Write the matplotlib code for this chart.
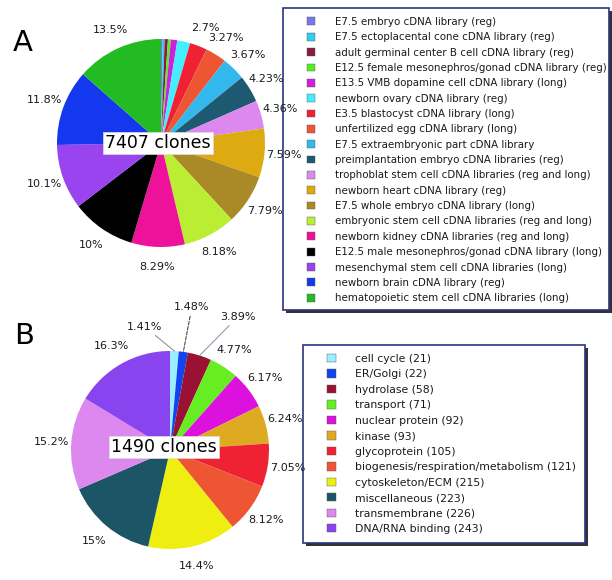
import numpy as np
import matplotlib.pyplot as plt
from matplotlib.patches import Patch, Rectangle

# ---- panel A: clones per cDNA library (percent of 7407) ----
a_total = 7407
a_labels = [
    "E7.5 embryo cDNA library (reg)",
    "E7.5 ectoplacental cone cDNA library (reg)",
    "adult germinal center B cell cDNA library (reg)",
    "E12.5 female mesonephros/gonad cDNA library (reg)",
    "E13.5 VMB dopamine cell cDNA library (long)",
    "newborn ovary cDNA library (reg)",
    "E3.5 blastocyst cDNA library (long)",
    "unfertilized egg cDNA library (long)",
    "E7.5 extraembryonic part cDNA library",
    "preimplantation embryo cDNA libraries (reg)",
    "trophoblat stem cell cDNA libraries (reg and long)",
    "newborn heart cDNA library (reg)",
    "E7.5 whole embryo cDNA library (long)",
    "embryonic stem cell cDNA libraries (reg and long)",
    "newborn kidney cDNA libraries (reg and long)",
    "E12.5 male mesonephros/gonad cDNA library (long)",
    "mesenchymal stem cell cDNA libraries (long)",
    "newborn brain cDNA library (reg)",
    "hematopoietic stem cell cDNA libraries (long)",
]
a_values = [0.27, 0.3, 0.5, 0.45, 1.0, 2.0, 2.7, 3.27, 3.67, 4.23, 4.36,
            7.59, 7.79, 8.18, 8.29, 10.0, 10.1, 11.8, 13.5]
a_colors = ["#7878ee", "#33ccee", "#8c1a40", "#55ee22", "#cc22dd", "#44eeff",
            "#ee2233", "#ee5533", "#33b8ee", "#1d5a72", "#dd88ee", "#ddaa11",
            "#aa8a26", "#bbee33", "#ee1199", "#000000", "#9944ee", "#1438ee",
            "#22bb22"]

# ---- panel B: functional categories (clone counts) ----
b_labels = ["cell cycle", "ER/Golgi", "hydrolase", "transport", "nuclear protein",
            "kinase", "glycoprotein", "biogenesis/respiration/metabolism",
            "cytoskeleton/ECM", "miscellaneous", "transmembrane", "DNA/RNA binding"]
b_counts = [21, 22, 58, 71, 92, 93, 105, 121, 215, 223, 226, 243]
b_colors = ["#99eeff", "#1144ee", "#991133", "#66ee22", "#dd11dd", "#ddaa22",
            "#ee2233", "#ee5533", "#eeee11", "#1b5566", "#dd88ee", "#8844ee"]

W, H = 612, 580
TXT = "#1a1a1a"
fig = plt.figure(figsize=(W / 100, H / 100), dpi=100)


def pie_axes(cx, cy, r, lim=1.35):
    half = r * lim
    ax = fig.add_axes([(cx - half) / W, (H - cy - half) / H, 2 * half / W, 2 * half / H])
    ax.set_zorder(2)
    return ax


def box(x0, y0, x1, y1):
    # drop shadow, then white framed box (pixel coords from top-left)
    fig.add_artist(Rectangle(((x0 + 3) / W, (H - y1 - 3) / H), (x1 - x0) / W, (y1 - y0) / H,
                             transform=fig.transFigure, fc="#333333", ec="none", zorder=0.5))
    fig.add_artist(Rectangle((x0 / W, (H - y1) / H), (x1 - x0) / W, (y1 - y0) / H,
                             transform=fig.transFigure, fc="white", ec="#2b3580",
                             lw=1.2, zorder=0.6))


# --- A pie ---
axA = pie_axes(161, 143, 104)
axA.pie(a_values, colors=a_colors, startangle=90, counterclock=False,
        autopct=lambda p: f"{p:.3g}%" if p >= 2.5 else "", pctdistance=1.19,
        wedgeprops=dict(linewidth=0), textprops=dict(fontsize=8, color=TXT))
axA.set_xlim(-1.35, 1.35)
axA.set_ylim(-1.35, 1.35)
axA.text(-0.03, 0, f"{a_total} clones", ha="center", va="center", fontsize=12.5,
         color="black", bbox=dict(boxstyle="square,pad=0.12", fc="white", ec="#dddddd", lw=0.5))

# --- B pie ---
axB = pie_axes(170, 450, 99)
b_total = sum(b_counts)
wedges, _, _ = axB.pie(b_counts, colors=b_colors, startangle=90, counterclock=False,
                       autopct=lambda p: f"{p:.3g}%" if p >= 4 else "", pctdistance=1.2,
                       wedgeprops=dict(linewidth=0), textprops=dict(fontsize=8, color=TXT))
axB.set_xlim(-1.35, 1.35)
axB.set_ylim(-1.35, 1.35)
axB.text(-0.06, 0.03, f"{b_total} clones", ha="center", va="center", fontsize=12.5,
         color="black", bbox=dict(boxstyle="square,pad=0.12", fc="white", ec="#dddddd", lw=0.5))

# small slices: labels pulled out with leader lines (angle from top clockwise, radius, style)
callouts = [(-11.5, 1.27, "-", "#888888"), (8.7, 1.46, "--", "#333333"), (27, 1.51, "-", "#8888aa")]
for w, n, (ang, rad, ls, lc) in zip(wedges, b_counts, callouts):
    mid = np.deg2rad((w.theta1 + w.theta2) / 2)
    t = np.deg2rad(90 - ang)
    axB.annotate(f"{100 * n / b_total:.3g}%", xy=(np.cos(mid), np.sin(mid)),
                 xytext=(rad * np.cos(t), rad * np.sin(t)), ha="center", va="center",
                 fontsize=8, color=TXT,
                 arrowprops=dict(arrowstyle="-", linestyle=ls, lw=0.7, color=lc,
                                 shrinkA=1, shrinkB=0))

# --- legends ---
box(283, 8, 609, 310)
hA = [Patch(fc=c, ec="#555555", lw=0.3) for c in a_colors]
fig.legend(hA, a_labels, loc="upper left", bbox_to_anchor=(307 / W, 1 - 17 / H),
           frameon=False, borderpad=0, borderaxespad=0, fontsize=7.4,
           handlelength=0.8, handleheight=0.8, handletextpad=1.95,
           labelspacing=0.52, labelcolor=TXT)

box(303, 345, 585, 543)
hB = [Patch(fc=c, ec="#555555", lw=0.3) for c in b_colors]
fig.legend(hB, [f"{l} ({n})" for l, n in zip(b_labels, b_counts)], loc="upper left",
           bbox_to_anchor=(327 / W, 1 - 354 / H), frameon=False, borderpad=0,
           borderaxespad=0, fontsize=7.85, handlelength=0.8, handleheight=0.8,
           handletextpad=1.8, labelspacing=0.5, labelcolor=TXT)

fig.text(13 / W, 1 - 43 / H, "A", fontsize=21, va="center", color="black")
fig.text(14 / W, 1 - 336 / H, "B", fontsize=21, va="center", color="black")

fig.savefig("out.png", dpi=100)
